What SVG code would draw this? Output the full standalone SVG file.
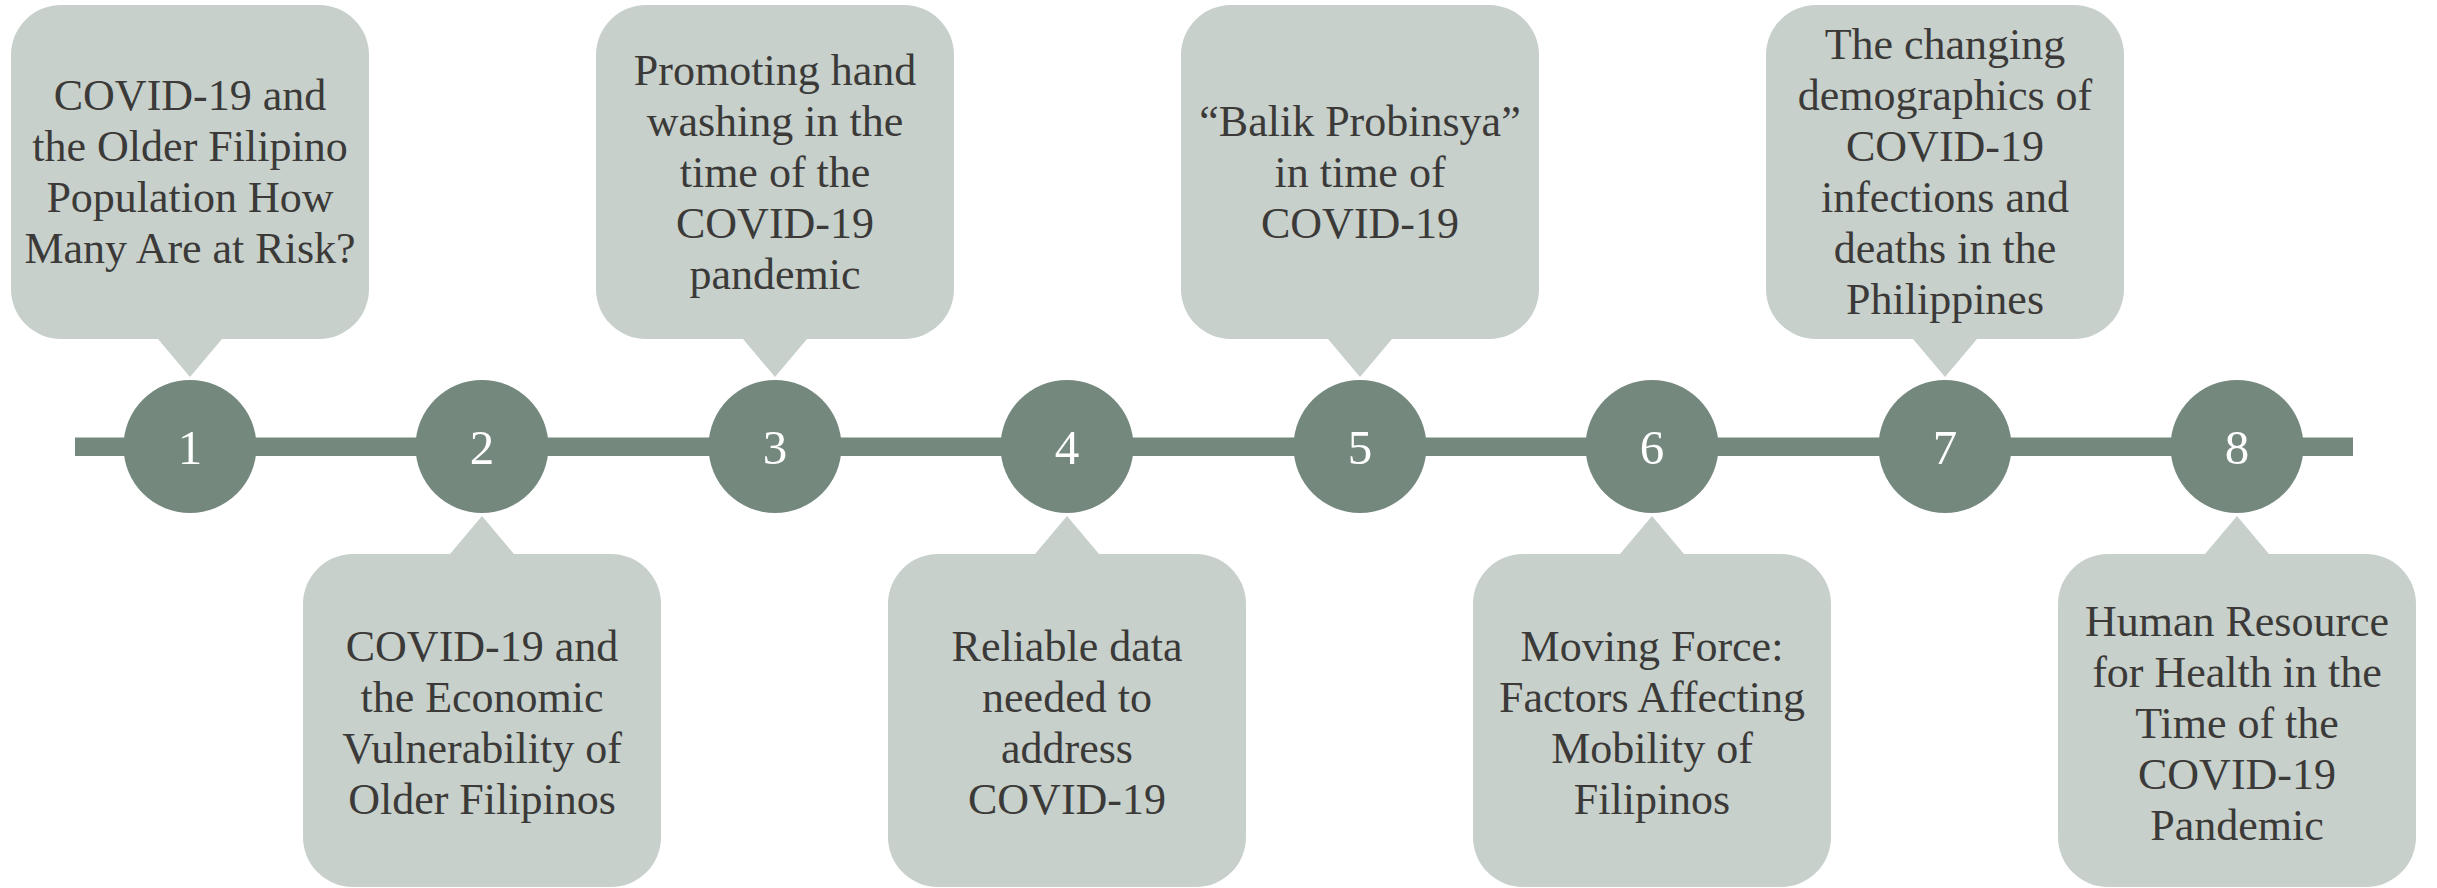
<svg xmlns="http://www.w3.org/2000/svg" width="2437" height="888" viewBox="0 0 2437 888">
<style>
.box{fill:#c7d0cb}
.dot{fill:#74887e}
.lbl{font-family:"Liberation Serif","Times New Roman",serif;font-size:44px;fill:#3b3a38;text-anchor:middle}
.num{font-family:"Liberation Serif","Times New Roman",serif;font-size:49px;fill:#ffffff;text-anchor:middle}
</style>
<rect width="2437" height="888" fill="#ffffff"/>
<g id="connectors">
<rect x="75" y="437.5" width="2278" height="18.5" fill="#74887e"/>
</g>
<g id="node1">
<path class="box" d="M61,5 H319 A50,50 0 0 1 369,55 V289 A50,50 0 0 1 319,339 H222 L190,377 L158,339 H61 A50,50 0 0 1 11,289 V55 A50,50 0 0 1 61,5 Z"/>
<circle class="dot" cx="190" cy="446.5" r="66.5"/>
<text class="num" x="190" y="464">1</text>
<text class="lbl"><tspan x="190" y="110">COVID-19 and</tspan><tspan x="190" y="161">the Older Filipino</tspan><tspan x="190" y="212">Population How</tspan><tspan x="190" y="263">Many Are at Risk?</tspan></text>
</g>
<g id="node2">
<path class="box" d="M353,554 H611 A50,50 0 0 1 661,604 V837 A50,50 0 0 1 611,887 H353 A50,50 0 0 1 303,837 V604 A50,50 0 0 1 353,554 H450 L482,516 L514,554 Z"/>
<circle class="dot" cx="482" cy="446.5" r="66.5"/>
<text class="num" x="482" y="464">2</text>
<text class="lbl"><tspan x="482" y="661">COVID-19 and</tspan><tspan x="482" y="712">the Economic</tspan><tspan x="482" y="763">Vulnerability of</tspan><tspan x="482" y="814">Older Filipinos</tspan></text>
</g>
<g id="node3">
<path class="box" d="M646,5 H904 A50,50 0 0 1 954,55 V289 A50,50 0 0 1 904,339 H807 L775,377 L743,339 H646 A50,50 0 0 1 596,289 V55 A50,50 0 0 1 646,5 Z"/>
<circle class="dot" cx="775" cy="446.5" r="66.5"/>
<text class="num" x="775" y="464">3</text>
<text class="lbl"><tspan x="775" y="84.5">Promoting hand</tspan><tspan x="775" y="135.5">washing in the</tspan><tspan x="775" y="186.5">time of the</tspan><tspan x="775" y="237.5">COVID-19</tspan><tspan x="775" y="288.5">pandemic</tspan></text>
</g>
<g id="node4">
<path class="box" d="M938,554 H1196 A50,50 0 0 1 1246,604 V837 A50,50 0 0 1 1196,887 H938 A50,50 0 0 1 888,837 V604 A50,50 0 0 1 938,554 H1035 L1067,516 L1099,554 Z"/>
<circle class="dot" cx="1067" cy="446.5" r="66.5"/>
<text class="num" x="1067" y="464">4</text>
<text class="lbl"><tspan x="1067" y="661">Reliable data</tspan><tspan x="1067" y="712">needed to</tspan><tspan x="1067" y="763">address</tspan><tspan x="1067" y="814">COVID-19</tspan></text>
</g>
<g id="node5">
<path class="box" d="M1231,5 H1489 A50,50 0 0 1 1539,55 V289 A50,50 0 0 1 1489,339 H1392 L1360,377 L1328,339 H1231 A50,50 0 0 1 1181,289 V55 A50,50 0 0 1 1231,5 Z"/>
<circle class="dot" cx="1360" cy="446.5" r="66.5"/>
<text class="num" x="1360" y="464">5</text>
<text class="lbl"><tspan x="1360" y="135.5">“Balik Probinsya”</tspan><tspan x="1360" y="186.5">in time of</tspan><tspan x="1360" y="237.5">COVID-19</tspan></text>
</g>
<g id="node6">
<path class="box" d="M1523,554 H1781 A50,50 0 0 1 1831,604 V837 A50,50 0 0 1 1781,887 H1523 A50,50 0 0 1 1473,837 V604 A50,50 0 0 1 1523,554 H1620 L1652,516 L1684,554 Z"/>
<circle class="dot" cx="1652" cy="446.5" r="66.5"/>
<text class="num" x="1652" y="464">6</text>
<text class="lbl"><tspan x="1652" y="661">Moving Force:</tspan><tspan x="1652" y="712">Factors Affecting</tspan><tspan x="1652" y="763">Mobility of</tspan><tspan x="1652" y="814">Filipinos</tspan></text>
</g>
<g id="node7">
<path class="box" d="M1816,5 H2074 A50,50 0 0 1 2124,55 V289 A50,50 0 0 1 2074,339 H1977 L1945,377 L1913,339 H1816 A50,50 0 0 1 1766,289 V55 A50,50 0 0 1 1816,5 Z"/>
<circle class="dot" cx="1945" cy="446.5" r="66.5"/>
<text class="num" x="1945" y="464">7</text>
<text class="lbl"><tspan x="1945" y="59">The changing</tspan><tspan x="1945" y="110">demographics of</tspan><tspan x="1945" y="161">COVID-19</tspan><tspan x="1945" y="212">infections and</tspan><tspan x="1945" y="263">deaths in the</tspan><tspan x="1945" y="314">Philippines</tspan></text>
</g>
<g id="node8">
<path class="box" d="M2108,554 H2366 A50,50 0 0 1 2416,604 V837 A50,50 0 0 1 2366,887 H2108 A50,50 0 0 1 2058,837 V604 A50,50 0 0 1 2108,554 H2205 L2237,516 L2269,554 Z"/>
<circle class="dot" cx="2237" cy="446.5" r="66.5"/>
<text class="num" x="2237" y="464">8</text>
<text class="lbl"><tspan x="2237" y="635.5">Human Resource</tspan><tspan x="2237" y="686.5">for Health in the</tspan><tspan x="2237" y="737.5">Time of the</tspan><tspan x="2237" y="788.5">COVID-19</tspan><tspan x="2237" y="839.5">Pandemic</tspan></text>
</g>
</svg>
